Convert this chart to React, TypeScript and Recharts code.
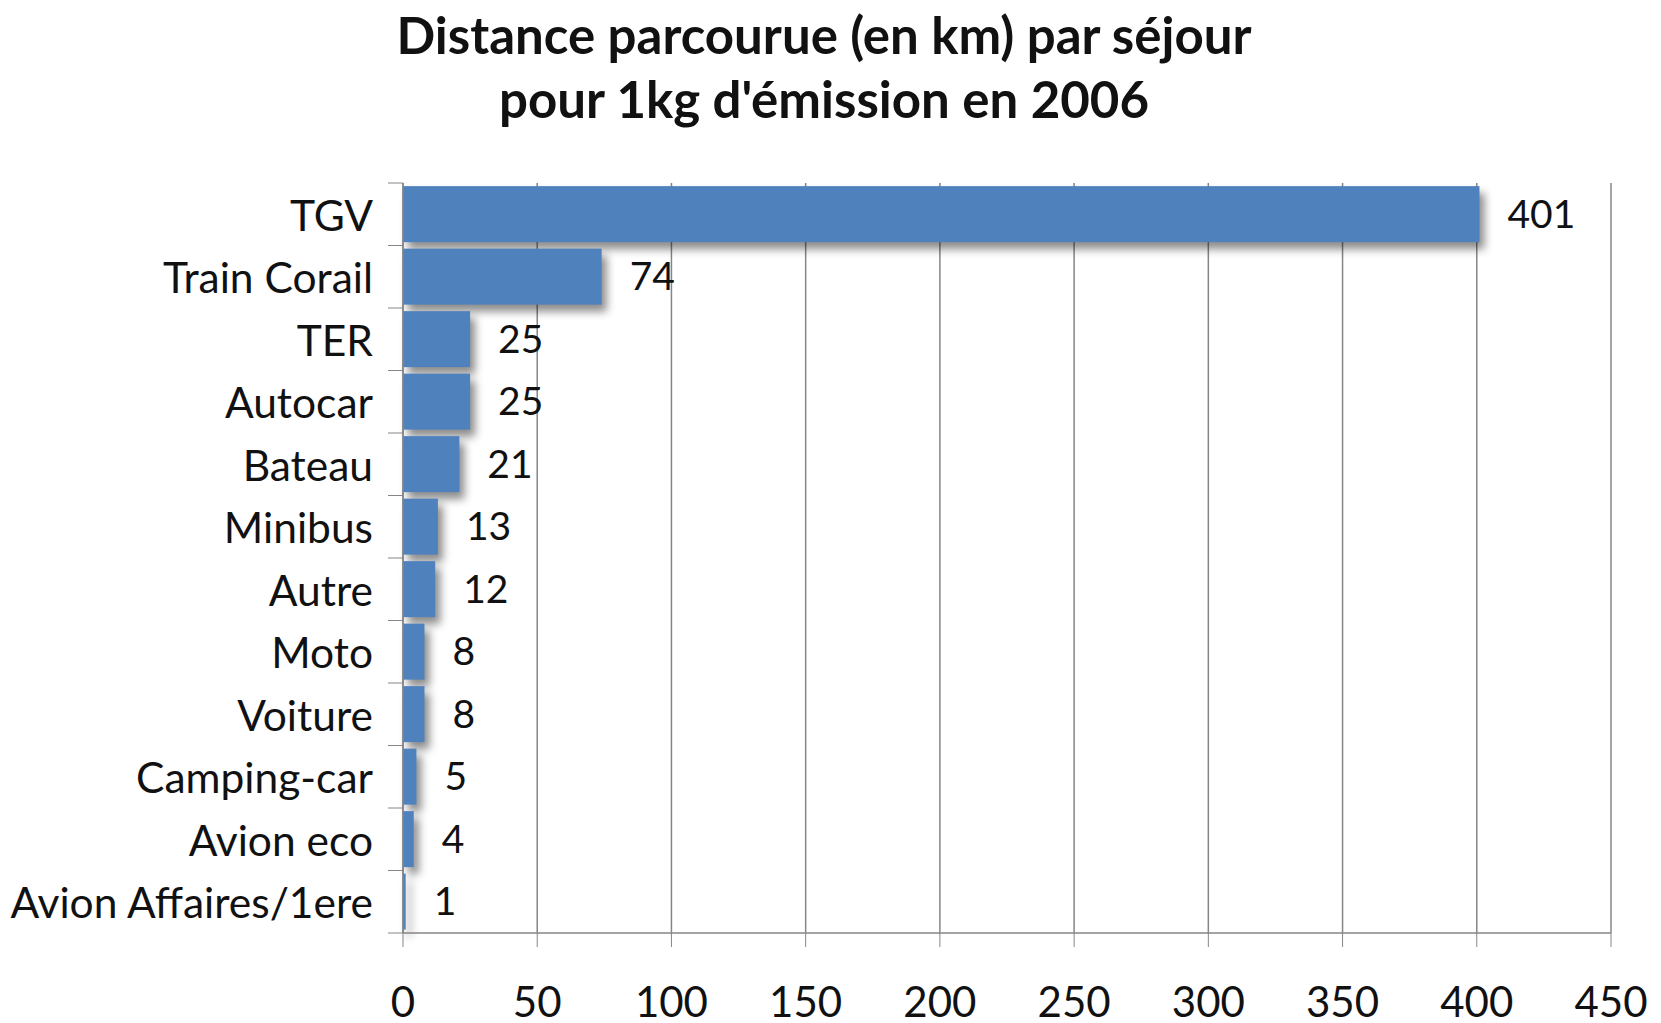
import { Bar, BarChart, CartesianGrid, LabelList, XAxis, YAxis } from "recharts";

const categories = [
  "TGV",
  "Train Corail",
  "TER",
  "Autocar",
  "Bateau",
  "Minibus",
  "Autre",
  "Moto",
  "Voiture",
  "Camping-car",
  "Avion eco",
  "Avion Affaires/1ere",
];
const values = [401, 74, 25, 25, 21, 13, 12, 8, 8, 5, 4, 1];
const xTicks = [0, 50, 100, 150, 200, 250, 300, 350, 400, 450];

const W = 1661;
const H = 1023;
const X_AXIS_H = 30;
const MARGIN = { top: 183, right: 50, bottom: 60, left: 0 };
const Y_AXIS_W = 403;
const BAND = (H - MARGIN.top - MARGIN.bottom - X_AXIS_H) / categories.length;
const FONT = "Lato, 'Open Sans', sans-serif";
const GRID = "#868686";

const chartData = categories.map((name, i) => ({ name, value: values[i] }));

function CategoryTick(props: any) {
  const { x, y, payload, index } = props;
  const axisX = x + 30;
  return (
    <g>
      <line x1={axisX - 15} x2={axisX} y1={y - BAND / 2} y2={y - BAND / 2} stroke={GRID} />
      {index === categories.length - 1 && (
        <line x1={axisX - 15} x2={axisX} y1={y + BAND / 2} y2={y + BAND / 2} stroke={GRID} />
      )}
      <text x={x} y={y} textAnchor="end" dominantBaseline="central" fontSize={42.5} fill="#111" fontFamily={FONT}>
        {payload.value}
      </text>
    </g>
  );
}

function ValueTick(props: any) {
  const { x, y, payload } = props;
  return (
    <text x={x} y={y + 52} textAnchor="middle" dominantBaseline="central" fontSize={42} fill="#111" fontFamily={FONT}>
      {payload.value}
    </text>
  );
}

function ShadowBar(props: any) {
  const { x, y, width, height, fill } = props;
  if (width <= 0) return <g />;
  return (
    <rect
      x={x}
      y={y}
      width={width}
      height={height}
      fill={fill}
      style={{ filter: "drop-shadow(5px 7px 4px rgba(0,0,0,0.45))" }}
    />
  );
}

export default function App() {
  return (
    <div
      style={{
        position: "absolute",
        left: 0,
        top: 0,
        width: W,
        height: H,
        background: "#fff",
        fontFamily: FONT,
      }}
    >
      <div
        style={{
          position: "absolute",
          left: 0,
          top: 3,
          width: 1648,
          textAlign: "center",
          fontWeight: 700,
          fontSize: 51,
          lineHeight: "64px",
          color: "#111",
        }}
      >
        Distance parcourue (en km) par séjour
        <br />
        pour 1kg d'émission en 2006
      </div>
      <BarChart
        width={W}
        height={H}
        data={chartData}
        layout="vertical"
        margin={MARGIN}
        barCategoryGap="5%"
        style={{ position: "absolute", left: 0, top: 0 }}
      >
        <CartesianGrid horizontal={false} stroke={GRID} strokeWidth={1.5} />
        <XAxis
          type="number"
          domain={[0, 450]}
          ticks={xTicks}
          interval={0}
          height={X_AXIS_H}
          tickSize={14}
          tickLine={{ stroke: GRID }}
          axisLine={{ stroke: GRID, strokeWidth: 1.5 }}
          tick={<ValueTick />}
        />
        <YAxis
          type="category"
          dataKey="name"
          width={Y_AXIS_W}
          tickSize={15}
          tickMargin={15}
          tickLine={false}
          interval={0}
          axisLine={{ stroke: GRID, strokeWidth: 1.5 }}
          tick={<CategoryTick />}
        />
        <Bar dataKey="value" fill="#4F81BD" isAnimationActive={false} shape={<ShadowBar />}>
          <LabelList
            dataKey="value"
            position="right"
            offset={28}
            fontSize={39}
            fill="#111"
            fontFamily={FONT}
          />
        </Bar>
      </BarChart>
    </div>
  );
}
